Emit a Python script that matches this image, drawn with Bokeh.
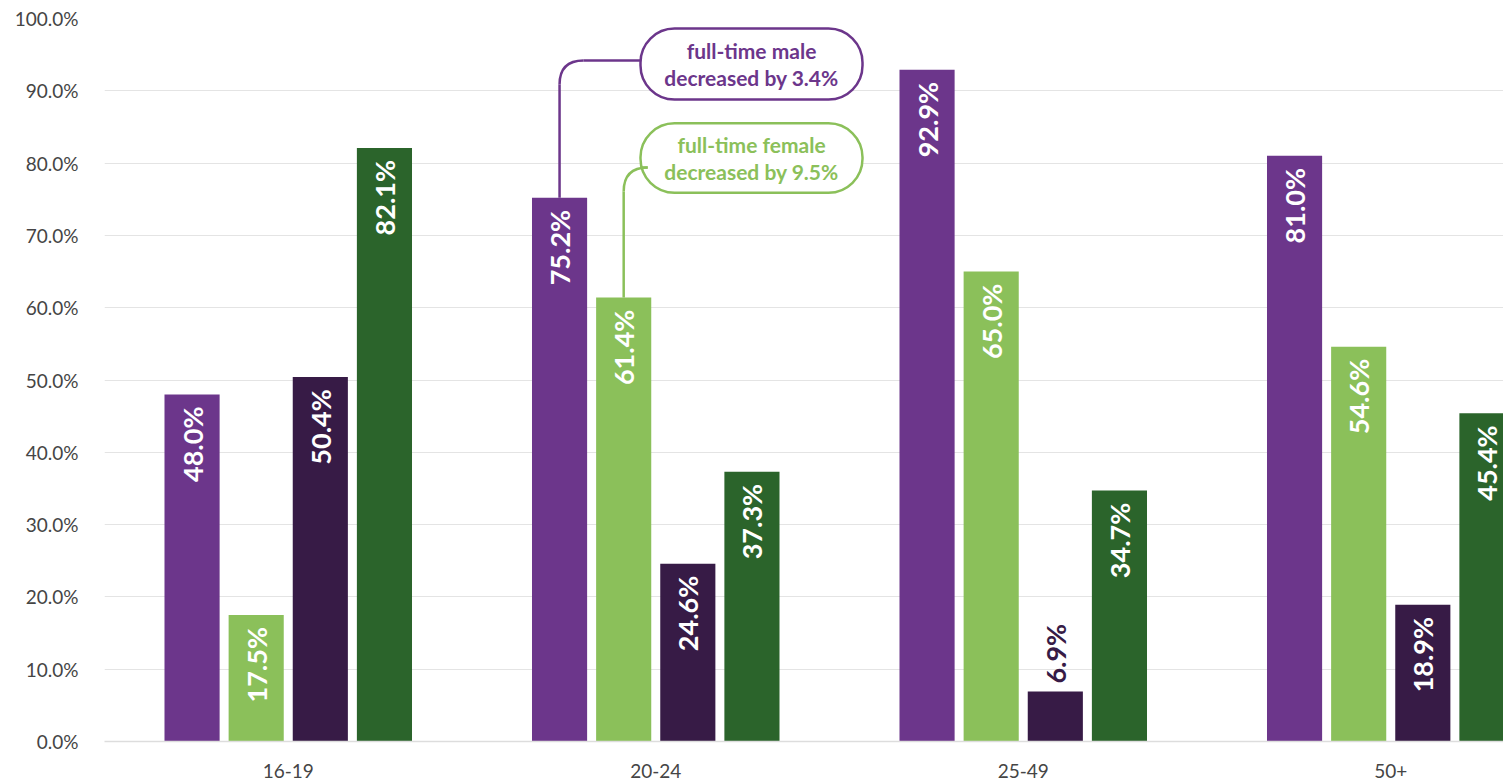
import math
from bokeh.plotting import figure
from bokeh.models import (ColumnDataSource, Range1d, FixedTicker, PrintfTickFormatter,
                          BoxAnnotation)
from bokeh.core.properties import value
from bokeh.embed import file_html
from bokeh.resources import INLINE

categories = ["16-19", "20-24", "25-49", "50+"]
series_names = ["Full-time male", "Full-time female", "Part-time male", "Part-time female"]
ft_male = [48.0, 75.2, 92.9, 81.0]
ft_female = [17.5, 61.4, 65.0, 54.6]
pt_male = [50.4, 24.6, 6.9, 18.9]
pt_female = [82.1, 37.3, 34.7, 45.4]
y_ticks = [0, 10, 20, 30, 40, 50, 60, 70, 80, 90, 100]

colors = ["#6C368B", "#8BC05A", "#371B46", "#2B642B"]
all_series = [ft_male, ft_female, pt_male, pt_female]

FONT = "Lato"
W, H = 1503, 784
LEFT, RIGHT, TOP, BOTTOM = 104, 0, 18, 43
frame_w = W - LEFT - RIGHT
cat_px = 367.5
x_end = frame_w / cat_px

p = figure(width=W, height=H, output_backend="svg", toolbar_location=None,
           x_range=Range1d(0, x_end), y_range=Range1d(0, 100),
           min_border_left=LEFT, min_border_right=RIGHT,
           min_border_top=TOP, min_border_bottom=BOTTOM)
p.outline_line_color = None
p.background_fill_color = "white"
p.border_fill_color = "white"

pitch = 0.1745
bar_w = 0.15
offsets = [-1.5 * pitch, -0.5 * pitch, 0.5 * pitch, 1.5 * pitch]
inside_min = 12.0  # labels of shorter bars are drawn above the bar

bar_x = {}
for k, (vals, col, off) in enumerate(zip(all_series, colors, offsets)):
    xs = [i + 0.5 + off for i in range(len(categories))]
    bar_x[k] = xs
    p.vbar(x=xs, top=vals, width=bar_w, bottom=0, fill_color=col, line_color=None)
    ins = [(x, v) for x, v in zip(xs, vals) if v >= inside_min]
    outs = [(x, v) for x, v in zip(xs, vals) if v < inside_min]
    if ins:
        src = ColumnDataSource(dict(x=[a for a, _ in ins], top=[b for _, b in ins],
                                    label=["%.1f%%" % b for _, b in ins]))
        p.text(x="x", y="top", text="label", source=src, angle=math.pi / 2,
               text_align="right", text_baseline="middle", y_offset=12,
               text_color="white", text_font=value(FONT), text_font_style="bold",
               text_font_size="27px")
    if outs:
        src = ColumnDataSource(dict(x=[a for a, _ in outs], top=[b for _, b in outs],
                                    label=["%.1f%%" % b for _, b in outs]))
        p.text(x="x", y="top", text="label", source=src, angle=math.pi / 2,
               text_align="left", text_baseline="middle", y_offset=-8,
               text_color=col, text_font=value(FONT), text_font_style="bold",
               text_font_size="27px")

# axes
p.xaxis.ticker = FixedTicker(ticks=[i + 0.5 for i in range(len(categories))])
p.xaxis.major_label_overrides = {i + 0.5: c for i, c in enumerate(categories)}
p.yaxis.ticker = FixedTicker(ticks=y_ticks)
p.yaxis.formatter = PrintfTickFormatter(format="%.1f%%")
for ax in (p.xaxis, p.yaxis):
    ax.major_tick_line_color = None
    ax.minor_tick_line_color = None
    ax.major_label_text_font = FONT
    ax.major_label_text_font_size = "19px"
    ax.major_label_text_color = "#454545"
p.yaxis.axis_line_color = None
p.yaxis.major_label_standoff = 20
p.xaxis.axis_line_color = "#dddddd"
p.xaxis.axis_line_width = 1.5
p.xaxis.major_label_standoff = 16
p.xgrid.grid_line_color = None
p.ygrid.grid_line_color = "#e4e4e4"
p.ygrid.grid_line_width = 1

# annotations
px_x = 1 / cat_px
px_y = 100 / (H - TOP - BOTTOM)
box_left = 1.4585
box_right = 2.0626
boxes = [
    dict(top=98.6, bottom=88.8, color=colors[0], text="full-time male\ndecreased by 3.4%",
         series=0, cat=1, line_y=94.2, r=24),
    dict(top=85.5, bottom=75.9, color=colors[1], text="full-time female\ndecreased by 9.5%",
         series=1, cat=1, line_y=79.4, r=24),
]
for b in boxes:
    xv = bar_x[b["series"]][b["cat"]]
    ybar = all_series[b["series"]][b["cat"]]
    rx = b["r"] * px_x
    ry = b["r"] * px_y
    yh = b["line_y"]
    p.segment(x0=[xv], y0=[ybar], x1=[xv], y1=[yh - ry], line_color=b["color"], line_width=2.5)
    p.quadratic(x0=[xv], y0=[yh - ry], x1=[xv + rx], y1=[yh], cx=[xv], cy=[yh],
                line_color=b["color"], line_width=2.5)
    p.segment(x0=[xv + rx], y0=[yh], x1=[box_left], y1=[yh], line_color=b["color"], line_width=2.5)
    p.add_layout(BoxAnnotation(left=box_left, right=box_right, top=b["top"], bottom=b["bottom"],
                               fill_color="white", fill_alpha=1.0, line_color=b["color"],
                               line_alpha=1.0, line_width=2.5, border_radius=34,
                               level="underlay", editable=False))
    p.text(x=[(box_left + box_right) / 2], y=[(b["top"] + b["bottom"]) / 2], text=[b["text"]],
           text_align="center", text_baseline="middle", text_color=b["color"],
           text_font=value(FONT), text_font_style="bold", text_font_size="21px",
           text_line_height=1.1)

open("out.html", "w").write(file_html(p, INLINE))
